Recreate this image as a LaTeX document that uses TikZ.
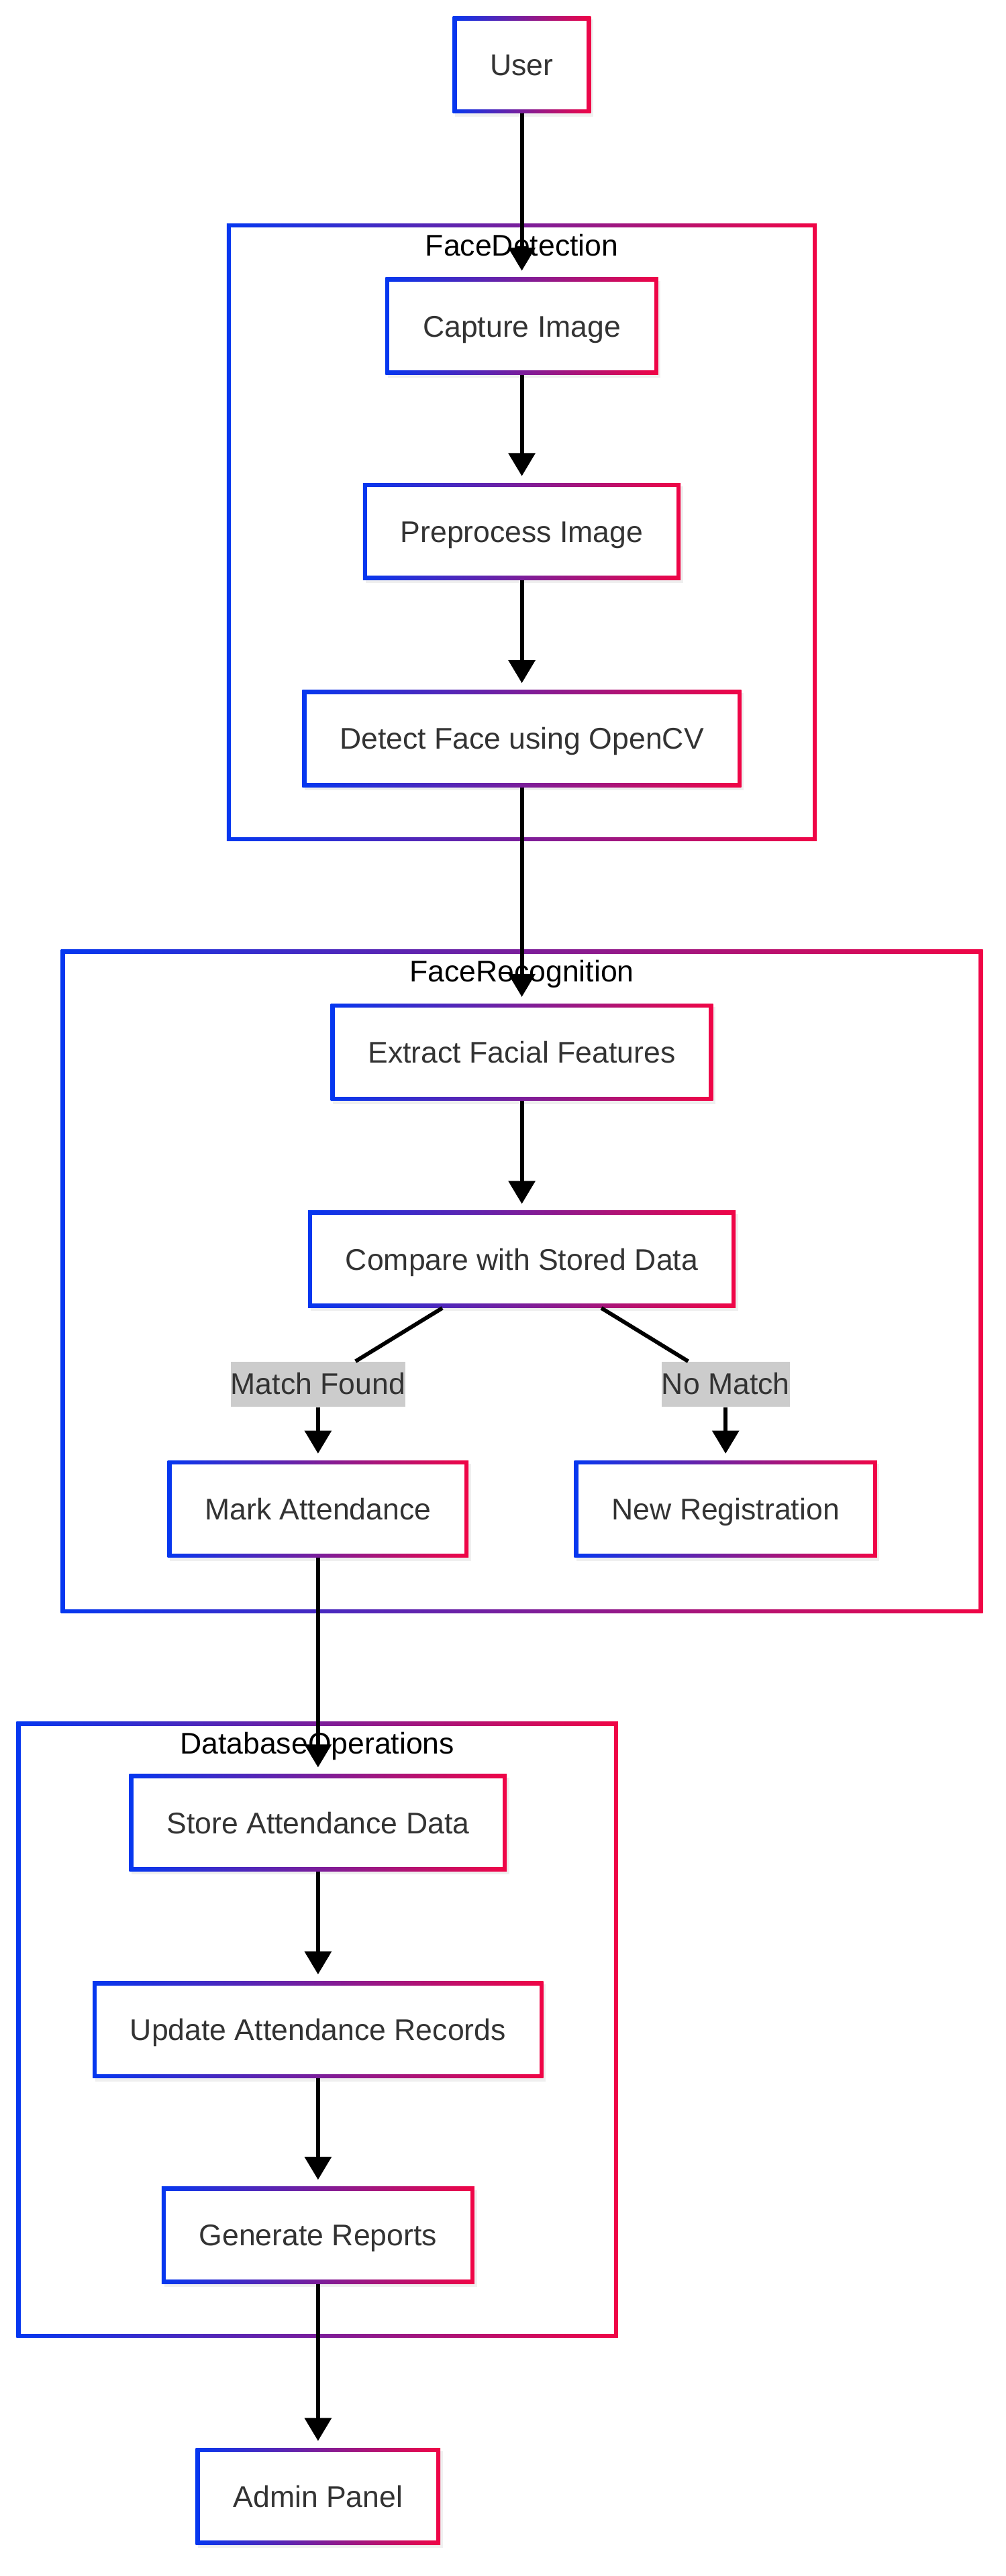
\documentclass[tikz,border=0pt]{standalone}
\usepackage{fontspec}
\setmainfont{Liberation Sans}
\usetikzlibrary{arrows.meta,shadows}
\definecolor{gblue}{RGB}{5,55,240}
\definecolor{gred}{RGB}{240,5,70}
\definecolor{txtgray}{RGB}{51,51,51}
\definecolor{lblgray}{RGB}{204,204,204}

\tikzset{
  gradborder/.style={rectangle, left color=gblue, right color=gred,
    path picture={\fill[white] ([shift={(2.5pt,2.5pt)}]path picture bounding box.south west)
      rectangle ([shift={(-2.5pt,-2.5pt)}]path picture bounding box.north east);}},
  proc/.style={gradborder, minimum height=59pt, inner xsep=22.8pt, inner ysep=0pt,
    text height=13pt, text depth=0pt, text=txtgray, font=\fontsize{18.2}{22}\selectfont,
    drop shadow={opacity=0.12, shadow xshift=1.5pt, shadow yshift=-2pt}},
  group/.style={gradborder, inner sep=0pt},
  grouptitle/.style={anchor=base, text=black, font=\fontsize{18.2}{22}\selectfont},
  edgelabel/.style={fill=lblgray, inner sep=0pt, text height=19.8pt, text depth=7.8pt,
    text=txtgray, font=\fontsize{18.2}{22}\selectfont},
  link/.style={line width=2.4pt},
  flow/.style={link, -{Triangle[length=14pt,width=16pt]}, shorten >=4pt}
}

\begin{document}
\begin{tikzpicture}[x=1pt,y=-1pt]
  \useasboundingbox (0,0) rectangle (612,1568);

  % subgraphs
  \node[group, minimum width=359pt, minimum height=376pt] (fd) at (317.5,324) {};
  \node[grouptitle] (fdtitle) at ([yshift=-19.8pt]fd.north) {FaceDetection};
  \node[group, minimum width=561pt, minimum height=404pt] (fr) at (317.5,780) {};
  \node[grouptitle] (frtitle) at ([yshift=-19.8pt]fr.north) {FaceRecognition};
  \node[group, minimum width=366pt, minimum height=375pt] (db) at (193,1235.5) {};
  \node[grouptitle] (dbtitle) at ([yshift=-19.8pt]db.north) {DatabaseOperations};

  \node[proc] (user) at (317.5,39.5) {User};
  \node[proc] (capture) at (317.5,198.5) {Capture Image};
  \node[proc] (preprocess) at (317.5,323.5) {Preprocess Image};
  \node[proc] (detect) at (317.5,449.5) {Detect Face using OpenCV};

  \node[proc] (extract) at (317.5,640.5) {Extract Facial Features};
  \node[proc] (compare) at (317.5,766.5) {Compare with Stored Data};
  \node[edgelabel] (matchlbl) at (193.5,842.6) {Match Found};
  \node[edgelabel] (nomatchlbl) at (441.5,842.6) {No Match};
  \node[proc] (mark) at (193.5,918.5) {Mark Attendance};
  \node[proc] (newreg) at (441.5,918.5) {New Registration};

  \node[proc] (store) at (193.5,1109.5) {Store Attendance Data};
  \node[proc] (update) at (193.5,1235.5) {Update Attendance Records};
  \node[proc] (reports) at (193.5,1360.5) {Generate Reports};
  \node[proc] (admin) at (193.5,1519.5) {Admin Panel};

  % connectors
  \draw[flow] (user) -- (capture);
  \draw[flow] (capture) -- (preprocess);
  \draw[flow] (preprocess) -- (detect);
  \draw[flow] (detect) -- (extract);
  \draw[flow] (extract) -- (compare);
  \draw[link] (compare) -- (matchlbl);
  \draw[flow] (matchlbl) -- (mark);
  \draw[link] (compare) -- (nomatchlbl);
  \draw[flow] (nomatchlbl) -- (newreg);
  \draw[flow] (mark) -- (store);
  \draw[flow] (store) -- (update);
  \draw[flow] (update) -- (reports);
  \draw[flow] (reports) -- (admin);
\end{tikzpicture}
\end{document}
